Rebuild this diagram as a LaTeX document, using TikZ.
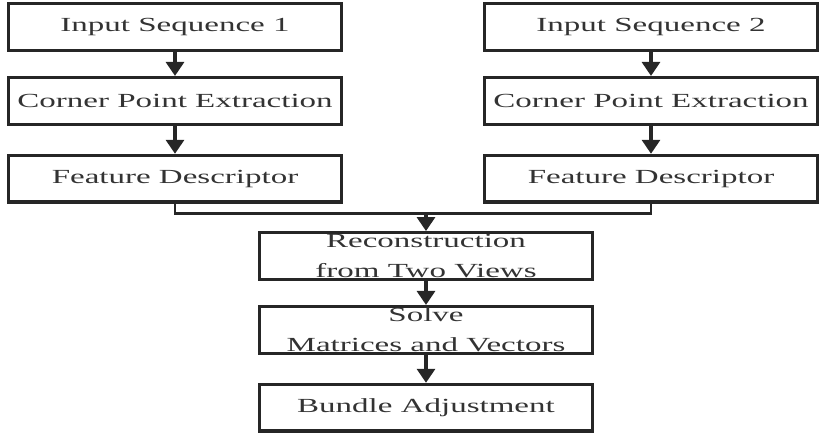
\documentclass[tikz,border=0pt]{standalone}
\usepackage{fontspec}
\usepackage{tikz}
\usetikzlibrary{arrows.meta, positioning, calc}

\newfontfamily\boxfont[FakeStretch=1.65]{Liberation Serif}

\begin{document}
\begin{tikzpicture}[
    x=0.75pt, y=0.75pt,
    every node/.style={inner sep=0pt},
    procbox/.style={draw=black!85, line width=2.4pt, minimum width=250pt,
                    minimum height=35pt, align=center, text=black!80,
                    font=\boxfont\fontsize{15}{23}\selectfont},
    flow/.style={-{Triangle[length=10.5pt, width=13.5pt]}, line width=2.4pt, black!85},
    link/.style={line width=2.2pt, black!85},
]
\useasboundingbox (0,0) rectangle (827,-434);

% --------- Left branch ----------
\node[procbox]                       (inseqA)  at (175,-27) {Input Sequence 1};
\node[procbox, below=18pt of inseqA] (cornerA)               {Corner Point Extraction};
\node[procbox, below=21pt of cornerA] (featA)                {Feature Descriptor};

\draw[flow] (inseqA)  -- (cornerA);
\draw[flow] (cornerA) -- (featA);

% --------- Right branch ----------
\node[procbox]                       (inseqB)  at (651,-27) {Input Sequence 2};
\node[procbox, below=18pt of inseqB] (cornerB)               {Corner Point Extraction};
\node[procbox, below=21pt of cornerB] (featB)                {Feature Descriptor};

\draw[flow] (inseqB)  -- (cornerB);
\draw[flow] (cornerB) -- (featB);

% --------- Merged chain ----------
\node[procbox]                      (recon)  at (426,-256) {Reconstruction\\from Two Views};
\node[procbox, below=18pt of recon] (solve)                {Solve\\Matrices and Vectors};
\node[procbox, below=21pt of solve] (bundle)               {Bundle Adjustment};

\coordinate (join) at ($(recon.north)+(0,18)$);
\draw[link] (featA.south) |- (join) -| (featB.south);
\draw[flow] (join)  -- (recon);
\draw[flow] (recon) -- (solve);
\draw[flow] (solve) -- (bundle);

\end{tikzpicture}
\end{document}
